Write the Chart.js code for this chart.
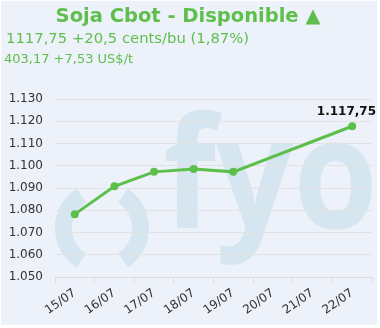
<!DOCTYPE html>
<html>
<head>
<meta charset="utf-8">
<script src="https://cdn.jsdelivr.net/npm/chart.js@4"></script>
<style>
  html, body { margin: 0; padding: 0; background: #ffffff; }
  #wrap { position: relative; width: 380px; height: 328px; overflow: hidden; }
  #panel { position: absolute; left: 1px; top: 1px; width: 376px; height: 324px; background: #edf1f9; }
  canvas { position: absolute; left: 0; top: 0; }
  .hdr { position: absolute; font-family: "DejaVu Sans", Verdana, sans-serif; color: #5fbf4d; white-space: nowrap; }
  #t1 { left: 0; width: 376px; top: 4px; text-align: center; font-weight: bold; font-size: 19.5px; }
  #t2 { left: 6px; top: 29px; font-size: 14.8px; }
  #t3 { left: 4px; top: 51px; font-size: 13px; }
</style>
</head>
<body>
<div id="wrap">
  <div id="panel"></div>
  <canvas id="c" width="380" height="328"></canvas>
  <div class="hdr" id="t1">Soja Cbot - Disponible ▲</div>
  <div class="hdr" id="t2">1117,75 +20,5 cents/bu (1,87%)</div>
  <div class="hdr" id="t3">403,17 +7,53 US$/t</div>
</div>
<script>
const categories = ['15/07', '16/07', '17/07', '18/07', '19/07', '20/07', '21/07', '22/07'];
const prices = [1078.25, 1090.75, 1097.25, 1098.5, 1097.25, null, null, 1117.75];
const yTickValues = [1050, 1060, 1070, 1080, 1090, 1100, 1110, 1120, 1130];
const lastLabel = '1.117,75';

function fmtTick(v) {
  const s = Math.round(v).toString();
  return s.length > 3 ? s.slice(0, s.length - 3) + '.' + s.slice(-3) : s;
}

const watermark = {
  id: 'watermark',
  beforeDraw(chart) {
    const ctx = chart.ctx;
    ctx.save();
    ctx.fillStyle = '#d6e6f0';
    ctx.strokeStyle = '#d6e6f0';
    ctx.save();
    ctx.translate(378, 228);
    ctx.scale(0.88, 1);
    ctx.font = 'bold 155px "Open Sans", sans-serif';
    ctx.textAlign = 'right';
    ctx.textBaseline = 'alphabetic';
    ctx.fillText('fyo', 0, 0);
    ctx.restore();
    ctx.lineWidth = 17;
    ctx.lineCap = 'butt';
    ctx.beginPath();
    ctx.arc(102, 228, 38.5, Math.PI - 1.0, Math.PI + 1.0);
    ctx.stroke();
    ctx.beginPath();
    ctx.arc(102, 228, 38.5, -1.0, 1.0);
    ctx.stroke();
    ctx.restore();
  }
};

const lastValueLabel = {
  id: 'lastValueLabel',
  afterDatasetsDraw(chart) {
    const meta = chart.getDatasetMeta(0);
    const idx = prices.length - 1;
    const pt = meta.data[idx];
    if (!pt) return;
    const ctx = chart.ctx;
    ctx.save();
    ctx.font = 'bold 12px "DejaVu Sans", sans-serif';
    ctx.fillStyle = '#111111';
    ctx.textBaseline = 'alphabetic';
    const w = ctx.measureText(lastLabel).width;
    let x = pt.x - w / 2;
    if (x + w > chart.width - 4) x = chart.width - 4 - w;
    ctx.textAlign = 'left';
    ctx.fillText(lastLabel, x, pt.y - 11);
    ctx.restore();
  }
};

new Chart(document.getElementById('c'), {
  type: 'line',
  data: {
    labels: categories,
    datasets: [{
      data: prices,
      borderColor: '#5dbf4b',
      backgroundColor: '#5dbf4b',
      borderWidth: 3,
      pointRadius: 4,
      pointHoverRadius: 4,
      pointBorderWidth: 0,
      spanGaps: true,
      tension: 0,
      fill: false
    }]
  },
  options: {
    responsive: false,
    animation: false,
    devicePixelRatio: 1,
    layout: { padding: { left: 0, top: 99, right: 8, bottom: 0 } },
    plugins: { legend: { display: false }, tooltip: { enabled: false }, title: { display: false } },
    scales: {
      x: {
        type: 'category',
        offset: true,
        grid: { display: true, offset: true, drawOnChartArea: false, drawTicks: true, tickLength: 6, color: '#dcdcdc' },
        border: { display: true, color: '#dcdcdc', width: 1 },
        ticks: {
          color: '#333333',
          font: { family: '"DejaVu Sans", sans-serif', size: 12 },
          minRotation: 35, maxRotation: 35,
          padding: 3,
          autoSkip: false
        },
        afterFit(scale) { scale.height = 51; }
      },
      y: {
        min: 1050, max: 1130,
        grid: { color: '#e2e2e2', drawTicks: false },
        border: { display: false },
        ticks: {
          color: '#333333',
          font: { family: '"DejaVu Sans", sans-serif', size: 12 },
          padding: 12,
          callback: v => fmtTick(v)
        },
        afterBuildTicks(scale) { scale.ticks = yTickValues.map(v => ({ value: v })); },
        afterFit(scale) { scale.width = 55; }
      }
    }
  },
  plugins: [watermark, lastValueLabel]
});
</script>
</body>
</html>
